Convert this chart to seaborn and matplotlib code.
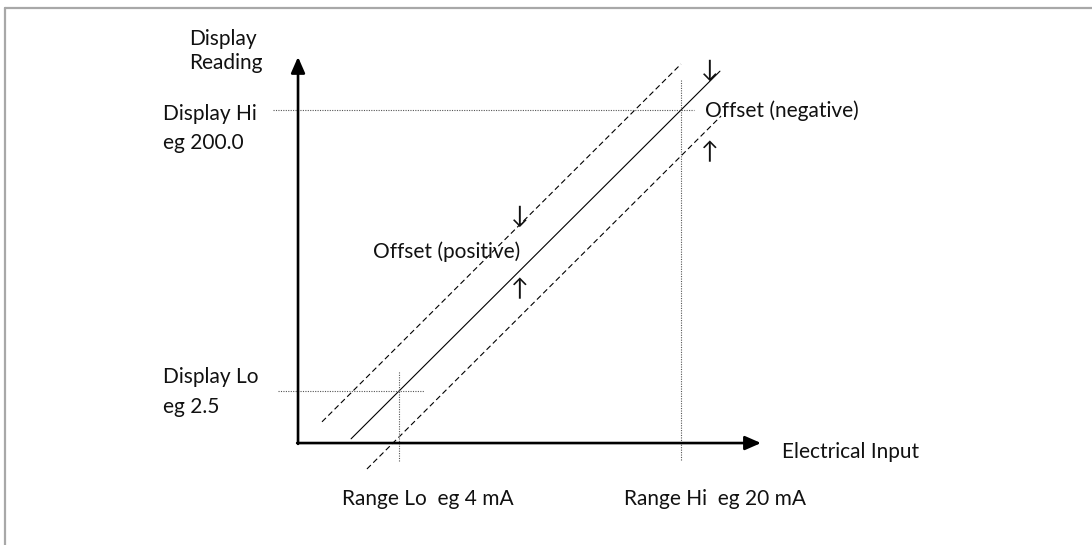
import numpy as np
import pandas as pd
import matplotlib.pyplot as plt
import seaborn as sns

sns.set_theme(style='white')
plt.rcParams['font.family'] = ['Lato', 'DejaVu Sans']

# Calibration: electrical input (mA) vs display reading
range_ma = [4.0, 20.0]          # Range Lo, Range Hi
display_vals = [2.5, 200.0]     # Display Lo, Display Hi
offset = 32.3                   # offset shown by dashed lines (display units)

# extents of the drawn lines (mA)
line_x = [1.28, 22.21]
upper_x = [-0.37, 20.0]
lower_x = [2.18, 22.27]

# dotted guide extents
hi_guide_x = [-3.15, 20.74]
lo_guide_x = [-2.87, 5.42]
lo_range_y = [-46.7, 16.6]
hi_range_y = [-46.0, 221.8]

# axes origin / arrow tips
origin = [-1.73, -34.05]
x_tip = 24.54
y_tip = 237.3

W, H = 1092, 545
fig = plt.figure(figsize=(W / 100, H / 100), dpi=100)
ax = fig.add_axes([0, 0, 1, 1])
ax.set_xlim(-18.64, 43.32)
ax.set_ylim(-105.7, 277.3)
ax.axis('off')

slope = (display_vals[1] - display_vals[0]) / (range_ma[1] - range_ma[0])


def reading(x, off=0.0):
    return [display_vals[0] + (v - range_ma[0]) * slope + off for v in x]


lines = pd.concat([
    pd.DataFrame({'mA': line_x, 'reading': reading(line_x), 'kind': 'cal'}),
    pd.DataFrame({'mA': upper_x, 'reading': reading(upper_x, offset), 'kind': 'pos'}),
    pd.DataFrame({'mA': lower_x, 'reading': reading(lower_x, -offset), 'kind': 'neg'}),
])
sns.lineplot(data=lines, x='mA', y='reading', style='kind', units='kind', estimator=None,
             dashes={'cal': '', 'pos': (5, 3), 'neg': (5, 3)}, color='black', lw=0.8,
             legend=False, ax=ax, sort=False)

# dotted guides
dot = dict(color='#555555', lw=0.8, ls=(0, (1, 1.2)))
ax.plot(hi_guide_x, [display_vals[1]] * 2, **dot)
ax.plot(lo_guide_x, [display_vals[0]] * 2, **dot)
ax.plot([range_ma[0]] * 2, lo_range_y, **dot)
ax.plot([range_ma[1]] * 2, hi_range_y, **dot)

# axes with arrows
arrow = dict(arrowstyle='-|>,head_length=0.8,head_width=0.35', color='black', lw=1.9,
             shrinkA=0, shrinkB=0, mutation_scale=12)
ax.annotate('', xy=(x_tip, origin[1]), xytext=(origin[0] - 0.05, origin[1]), arrowprops=arrow)
ax.annotate('', xy=(origin[0], y_tip), xytext=(origin[0], origin[1] - 0.6), arrowprops=arrow)

# grey frame
ax.plot([5 / W, 1], [1 - 8 / H] * 2, color='#a8a8a8', lw=1.6, transform=ax.transAxes, clip_on=False)
ax.plot([5 / W] * 2, [0, 1 - 8 / H], color='#a8a8a8', lw=1.6, transform=ax.transAxes, clip_on=False)


def label(x, y, s, ha='left', size=15):
    fig.text(x / W, 1 - y / H, s, ha=ha, va='baseline', fontsize=size, color='#111111')


label(189, 45, 'Display')
label(189, 69, 'Reading')
label(163, 120, 'Display Hi')
label(163, 149, 'eg 200.0')
label(163, 383, 'Display Lo')
label(163, 413, 'eg 2.5')
label(705, 117, 'Offset (negative)')
label(373, 258, 'Offset (positive)')
label(782, 458, 'Electrical Input')
label(342, 505, 'Range Lo  eg 4 mA')
label(624, 505, 'Range Hi  eg 20 mA')
label(710, 77, '↓', ha='center', size=17)
label(710, 159, '↑', ha='center', size=17)
label(520, 223, '↓', ha='center', size=17)
label(520, 296, '↑', ha='center', size=17)

fig.savefig('out.png', dpi=100)
